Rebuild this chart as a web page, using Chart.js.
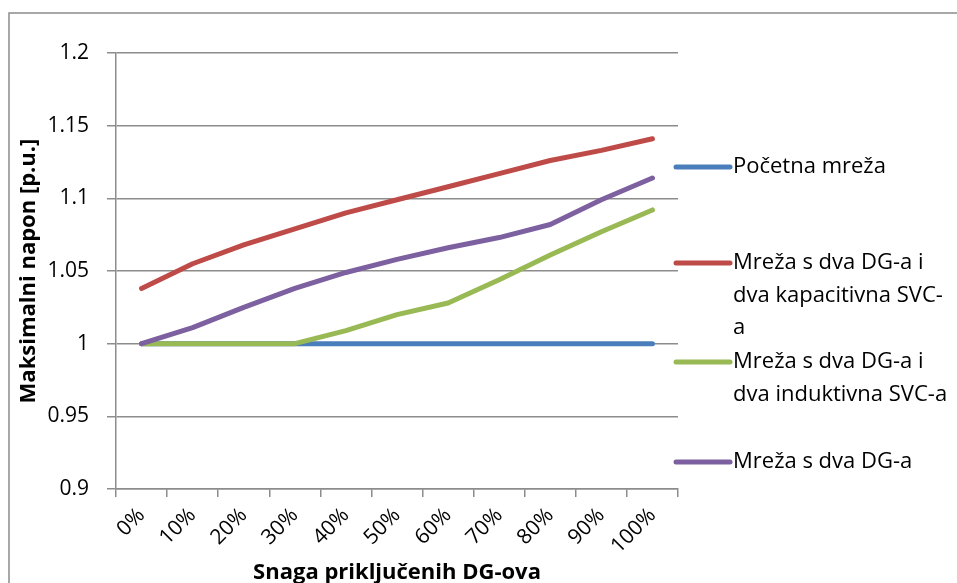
<!DOCTYPE html>
<html>
<head>
<meta charset="utf-8">
<script src="https://cdn.jsdelivr.net/npm/chart.js@4.4.1/dist/chart.umd.min.js"></script>
<style>
  html, body { margin: 0; padding: 0; background: #fff; }
  #wrap { width: 957px; height: 583px; position: relative; }
</style>
</head>
<body>
<div id="wrap"><canvas id="myLineChart"></canvas></div>
<script>
// chart data
const categories = ['0%', '10%', '20%', '30%', '40%', '50%', '60%', '70%', '80%', '90%', '100%'];
const yTicks = [0.9, 0.95, 1, 1.05, 1.1, 1.15, 1.2];

const pocetna = [1, 1, 1, 1, 1, 1, 1, 1, 1, 1, 1];
const kapacitivni = [1.038, 1.055, 1.068, 1.079, 1.090, 1.099, 1.108, 1.117, 1.126, 1.133, 1.141];
const induktivni = [1, 1, 1, 1, 1.009, 1.020, 1.028, 1.044, 1.061, 1.077, 1.092];
const dvaDG = [1, 1.011, 1.025, 1.038, 1.049, 1.058, 1.066, 1.073, 1.082, 1.099, 1.114];

// legend text, wrapped like in the original
const legendLines = [
  ['Početna mreža'],
  ['Mreža s dva DG-a i', 'dva kapacitivna SVC-', 'a'],
  ['Mreža s dva DG-a i', 'dva induktivna SVC-a'],
  ['Mreža s dva DG-a']
];
const legendY = [167, 263, 362, 462];

const FONT = "'Open Sans', sans-serif";
const gridColor = '#8c8c8c';

// frame around the whole chart
const framePlugin = {
  id: 'frame',
  beforeDraw(chart) {
    const c = chart.ctx;
    c.save();
    c.strokeStyle = '#8c8c8c';
    c.lineWidth = 1.5;
    c.strokeRect(9, 13, 1000, 1000);
    c.restore();
  }
};

// legend on the right, with multi line labels
const sideLegend = {
  id: 'sideLegend',
  afterDraw(chart) {
    const c = chart.ctx;
    c.save();
    c.font = '22px ' + FONT;
    c.textBaseline = 'middle';
    c.fillStyle = '#000';
    chart.data.datasets.forEach((ds, i) => {
      const y = legendY[i];
      c.strokeStyle = ds.borderColor;
      c.lineWidth = 5;
      c.lineCap = 'round';
      c.beginPath();
      c.moveTo(676, y);
      c.lineTo(730, y);
      c.stroke();
      legendLines[i].forEach((txt, k) => {
        c.fillText(txt, 733, y + k * 32.5);
      });
    });
    c.restore();
  }
};

function makeSet(label, data, color, order) {
  return {
    label: label,
    data: data,
    borderColor: color,
    backgroundColor: color,
    borderWidth: 5,
    borderCapStyle: 'round',
    borderJoinStyle: 'round',
    tension: 0,
    pointRadius: 0,
    order: order
  };
}

const ctx = document.getElementById('myLineChart').getContext('2d');
let myLineChart = new Chart(ctx, {
  type: 'line',
  data: {
    labels: categories,
    datasets: [
      makeSet('Početna mreža', pocetna, '#4a7ebb', 3),
      makeSet('Mreža s dva DG-a i dva kapacitivna SVC-a', kapacitivni, '#be4b48', 2),
      makeSet('Mreža s dva DG-a i dva induktivna SVC-a', induktivni, '#98b954', 1),
      makeSet('Mreža s dva DG-a', dvaDG, '#7d60a0', 0)
    ]
  },
  options: {
    responsive: true,
    maintainAspectRatio: false,
    animation: false,
    layout: {
      padding: { left: 0, top: 53, right: 279, bottom: 0 }
    },
    plugins: {
      legend: { display: false },
      tooltip: { enabled: false }
    },
    scales: {
      x: {
        offset: true,
        grid: {
          offset: true,
          drawOnChartArea: false,
          drawTicks: true,
          tickLength: 8,
          color: gridColor,
          lineWidth: 1.5
        },
        border: { color: gridColor, width: 1.5 },
        ticks: {
          color: '#000',
          font: { family: FONT, size: 21 },
          minRotation: 45,
          maxRotation: 45,
          padding: 6
        },
        title: {
          display: true,
          text: 'Snaga priključenih DG-ova',
          color: '#000',
          font: { family: FONT, size: 22, weight: 'bold' },
          padding: { top: 0, bottom: -3 }
        },
        afterFit(scale) { scale.height = 94; }
      },
      y: {
        min: 0.9,
        max: 1.2,
        afterBuildTicks(scale) {
          scale.ticks = yTicks.map(v => ({ value: v }));
        },
        grid: {
          color: gridColor,
          lineWidth: 1.5,
          tickLength: 9
        },
        border: { color: gridColor, width: 1.5 },
        ticks: {
          color: '#000',
          font: { family: FONT, size: 21 },
          padding: 18,
          callback: v => String(Number(v.toFixed(2)))
        },
        title: {
          display: true,
          text: 'Maksimalni napon [p.u.]',
          color: '#000',
          font: { family: FONT, size: 22, weight: 'bold' },
          padding: { top: 16, bottom: 0 }
        },
        afterFit(scale) { scale.width = 116; }
      }
    }
  },
  plugins: [framePlugin, sideLegend]
});
</script>
</body>
</html>
